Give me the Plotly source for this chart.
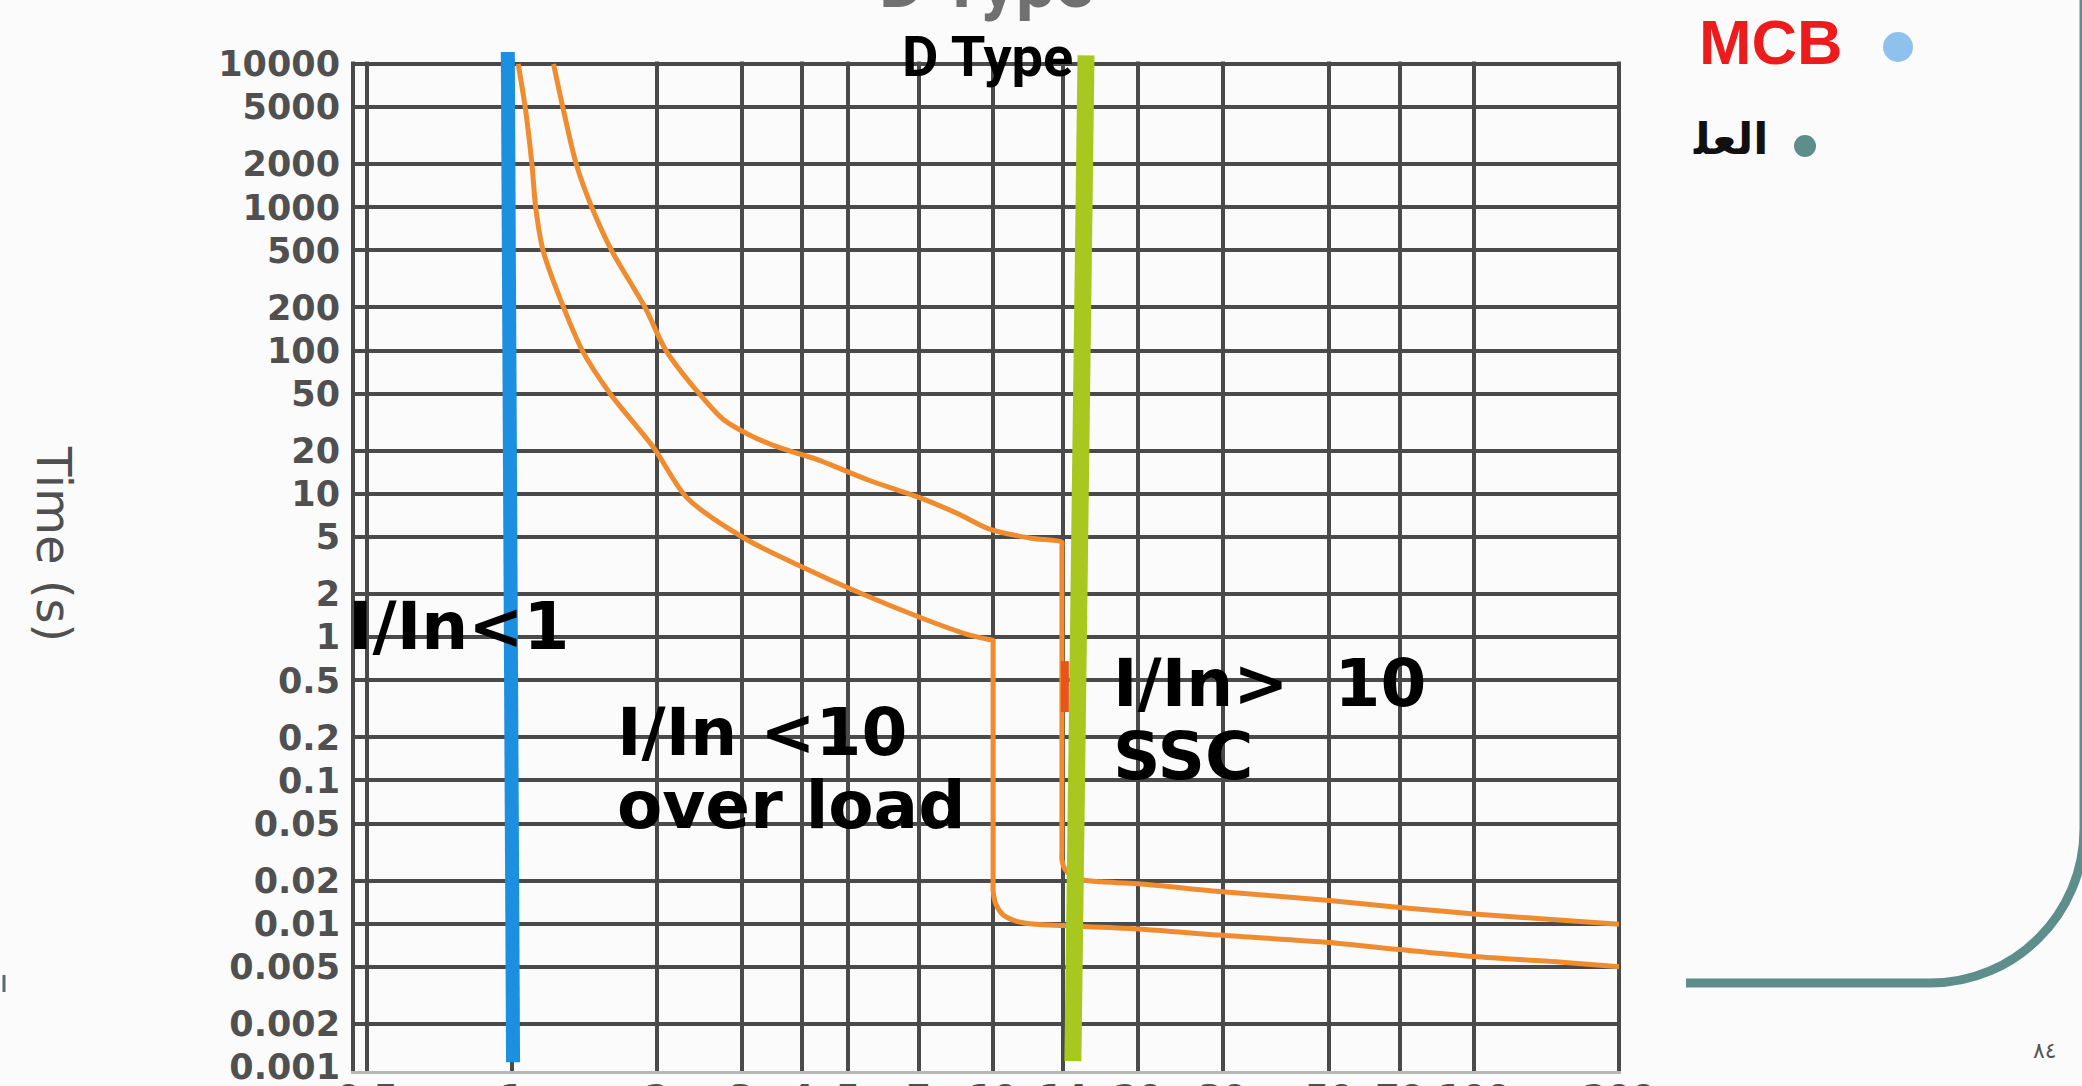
import plotly.graph_objects as go

# ---- axis ticks ---------------------------------------------------------
current_ticks = [0.5, 1, 2, 3, 4, 5, 7, 10, 14, 20, 30, 50, 70, 100, 200]
current_labels = ["0.5", "1", "2", "3", "4", "5", "7", "10", "14", "20",
                  "30", "50", "70", "100", "200"]
time_ticks = [10000, 5000, 2000, 1000, 500, 200, 100, 50, 20, 10, 5, 2, 1,
              0.5, 0.2, 0.1, 0.05, 0.02, 0.01, 0.005, 0.002, 0.001]
time_labels = ["10000", "5000", "2000", "1000", "500", "200", "100", "50",
               "20", "10", "5", "2", "1", "0.5", "0.2", "0.1", "0.05",
               "0.02", "0.01", "0.005", "0.002", "0.001"]

# ---- D-type tripping band: multiple of rated current vs. seconds -------
upper_current = [1.22, 1.275, 1.36, 1.465, 1.61, 1.89, 2.09, 2.45, 2.75, 3.1,
                 3.6, 4.3, 5.5, 7.1, 8.5, 9.8, 12.0, 13.9, 13.9, 13.9, 13.9,
                 14.1, 14.6, 15.4, 16.8, 20, 30, 50, 70, 100, 150, 200]
upper_time = [10000, 5000, 2000, 1000, 500, 200, 100, 50, 33, 26,
              21, 17.4, 12.5, 9.3, 7.2, 5.7, 4.9, 4.6, 4.3, 0.032, 0.028,
              0.024, 0.0215, 0.0202, 0.0196, 0.019, 0.0167, 0.0145, 0.013,
              0.0117, 0.0106, 0.0099]

lower_current = [1.03, 1.065, 1.10, 1.12, 1.16, 1.28, 1.40, 1.60, 1.97, 2.31,
                 3.04, 4.0, 5.2, 7.1, 8.8, 9.7, 10.0, 10.0, 10.0, 10.0, 10.15,
                 10.5, 11.2, 12.3, 14, 20, 30, 50, 70, 100, 150, 200]
lower_time = [10000, 5000, 2000, 1000, 500, 200, 100, 50, 21, 9.4,
              4.9, 3.1, 2.08, 1.36, 1.05, 0.97, 0.95, 0.9, 0.019, 0.017,
              0.0135, 0.0115, 0.0104, 0.0099, 0.0097, 0.0092, 0.0083, 0.0074,
              0.0066, 0.0059, 0.0054, 0.005]

# short highlighted stretch of the magnetic trip
flag_current = [14.1, 14.1]
flag_time = [0.68, 0.30]

# marker lines: rated current and the instantaneous-trip threshold
rated_current = [0.98, 1.005]
rated_time = [12500, 0.00108]
trip_current = [15.6, 14.65]
trip_time = [11500, 0.0011]

# ---- page geometry ------------------------------------------------------
W, H = 2082, 1086
L, R, T, B = 351, 1621, 52, 1071          # plot-area edges in px
TOP_LINE, BOTTOM_LINE = 64, 1067          # pixel rows of the 10000 s / 0.001 s lines
DECADE = (BOTTOM_LINE - TOP_LINE) / 7.0   # px per decade of time
Y_RANGE = [-3 - (B - BOTTOM_LINE) / DECADE, 4 + (TOP_LINE - T) / DECADE]
BG = "#fbfbfb"
GRID = "#4a4a4a"
ORANGE = "#ef8c2f"
TEAL = "#5e8e8c"


def fx(px):
    return (px - L) / (R - L)


def fy(py):
    return (B - py) / (B - T)


fig = go.Figure()

# curves of the band (drawn on the gridded time axis)
for cur, tm in ((upper_current, upper_time), (lower_current, lower_time)):
    fig.add_trace(go.Scatter(x=cur, y=tm, mode="lines", yaxis="y",
                             line=dict(color=ORANGE, width=5, shape="spline",
                                       smoothing=0.8),
                             hoverinfo="skip", showlegend=False))
fig.add_trace(go.Scatter(x=flag_current, y=flag_time, mode="lines", yaxis="y",
                         line=dict(color="#e8551c", width=8),
                         hoverinfo="skip", showlegend=False))

# overlay layer: band above the 10000 s line that hides the grid, then the
# two marker lines that overshoot the frame
mask_low = 10 ** (4 + 2.5 / DECADE)
fig.add_trace(go.Scatter(
    x=[0.3, 0.3, 300, 300], y=[mask_low, 10 ** 4.6, 10 ** 4.6, mask_low],
    yaxis="y2", fill="toself", fillcolor=BG, mode="lines", line=dict(width=0),
    hoverinfo="skip", showlegend=False))
fig.add_trace(go.Scatter(x=rated_current, y=rated_time, mode="lines", yaxis="y2",
                         line=dict(color="#1d8fe0", width=14),
                         hoverinfo="skip", showlegend=False))
fig.add_trace(go.Scatter(x=trip_current, y=trip_time, mode="lines", yaxis="y2",
                         line=dict(color="#a8c81f", width=17),
                         hoverinfo="skip", showlegend=False))

tick_font = dict(family="DejaVu Sans", size=35, color="#505050", weight="bold")

fig.update_layout(
    xaxis=dict(
        type="log", range=[-0.3347, 2.3052], automargin=False,
        tickmode="array", tickvals=[0.4668] + current_ticks,
        ticktext=[""] + current_labels, tickangle=0,
        showgrid=True, gridcolor=GRID, gridwidth=4, zeroline=False,
        ticks="", ticklabelstandoff=-6, ticklabeloverflow="allow",
        tickfont=tick_font,
        showline=True, linecolor="#b8b8b8", linewidth=3),
    # grid axis: every time line except the bottom one
    yaxis=dict(
        type="log", range=Y_RANGE, automargin=False,
        tickmode="array", tickvals=time_ticks[:-1], showticklabels=False,
        showgrid=True, gridcolor=GRID, gridwidth=4, zeroline=False,
        ticks="", showline=False),
    # label axis: all time labels, no grid
    yaxis2=dict(
        type="log", range=Y_RANGE, automargin=False, overlaying="y",
        side="left", anchor="x",
        tickmode="array", tickvals=time_ticks, ticktext=time_labels,
        showgrid=False, zeroline=False, ticks="", ticklabelstandoff=10,
        ticklabeloverflow="allow", tickfont=tick_font, showline=False),
)

label_font = dict(family="DejaVu Sans", size=66, color="#000000", weight="bold")


def note(text, px, py, xanchor="left", font=label_font, **kw):
    fig.add_annotation(text=text, xref="paper", yref="paper",
                       x=fx(px), y=fy(py), xanchor=xanchor, yanchor="middle",
                       showarrow=False, font=font, **kw)


# region labels
note("I/In<1", 346, 626)
note("I/In <10", 615, 732)
note("over load", 615, 805)
note("I/In>  10", 1111, 683)
note("SSC", 1111, 756)

# titles
note("D Type", 986, -17, xanchor="center",
     font=dict(family="Roboto", size=70, color="#707070", weight="bold"))
note("D Type", 987, 57, xanchor="center",
     font=dict(family="Roboto", size=56, color="#000000", weight="bold"))
note("Time (s)", 54, 544, xanchor="center", textangle=90,
     font=dict(family="DejaVu Sans", size=48, color="#505050"))

# slide text on the right
note("MCB", 1697, 42,
     font=dict(family="Liberation Sans", size=63, color="#ec1c1c", weight="bold"))
note("العل\u200d", 1770, 139, xanchor="right",
     font=dict(family="DejaVu Sans", size=44, color="#111111", weight="bold"))
note("٨٤", 2045, 1050, xanchor="center",
     font=dict(family="DejaVu Sans", size=22, color="#555555"))


def dot(cx, cy, r, color):
    fig.add_shape(type="circle", xref="paper", yref="paper",
                  x0=fx(cx - r), x1=fx(cx + r), y0=fy(cy + r), y1=fy(cy - r),
                  fillcolor=color, line=dict(width=0))


dot(1898, 47, 15, "#8fc1ef")
dot(1805, 146, 11, TEAL)

# rounded frame corner of the slide
k = 0.5523 * 154
path = f"M {fx(1686)},{fy(983)} L {fx(1930)},{fy(983)} " \
       f"C {fx(1930 + k)},{fy(983)} {fx(2084)},{fy(829 + k)} {fx(2084)},{fy(829)} " \
       f"L {fx(2084)},{fy(-10)}"
fig.add_shape(type="path", xref="paper", yref="paper", path=path,
              line=dict(color=TEAL, width=9))
fig.add_shape(type="line", xref="paper", yref="paper",
              x0=fx(4), x1=fx(4), y0=fy(975), y1=fy(992),
              line=dict(color="#556b6a", width=3))

fig.update_layout(
    width=W, height=H, autosize=False,
    margin=dict(l=L, r=W - R, t=T, b=H - B),
    paper_bgcolor=BG, plot_bgcolor=BG,
    showlegend=False)

fig.write_html("out.html")
